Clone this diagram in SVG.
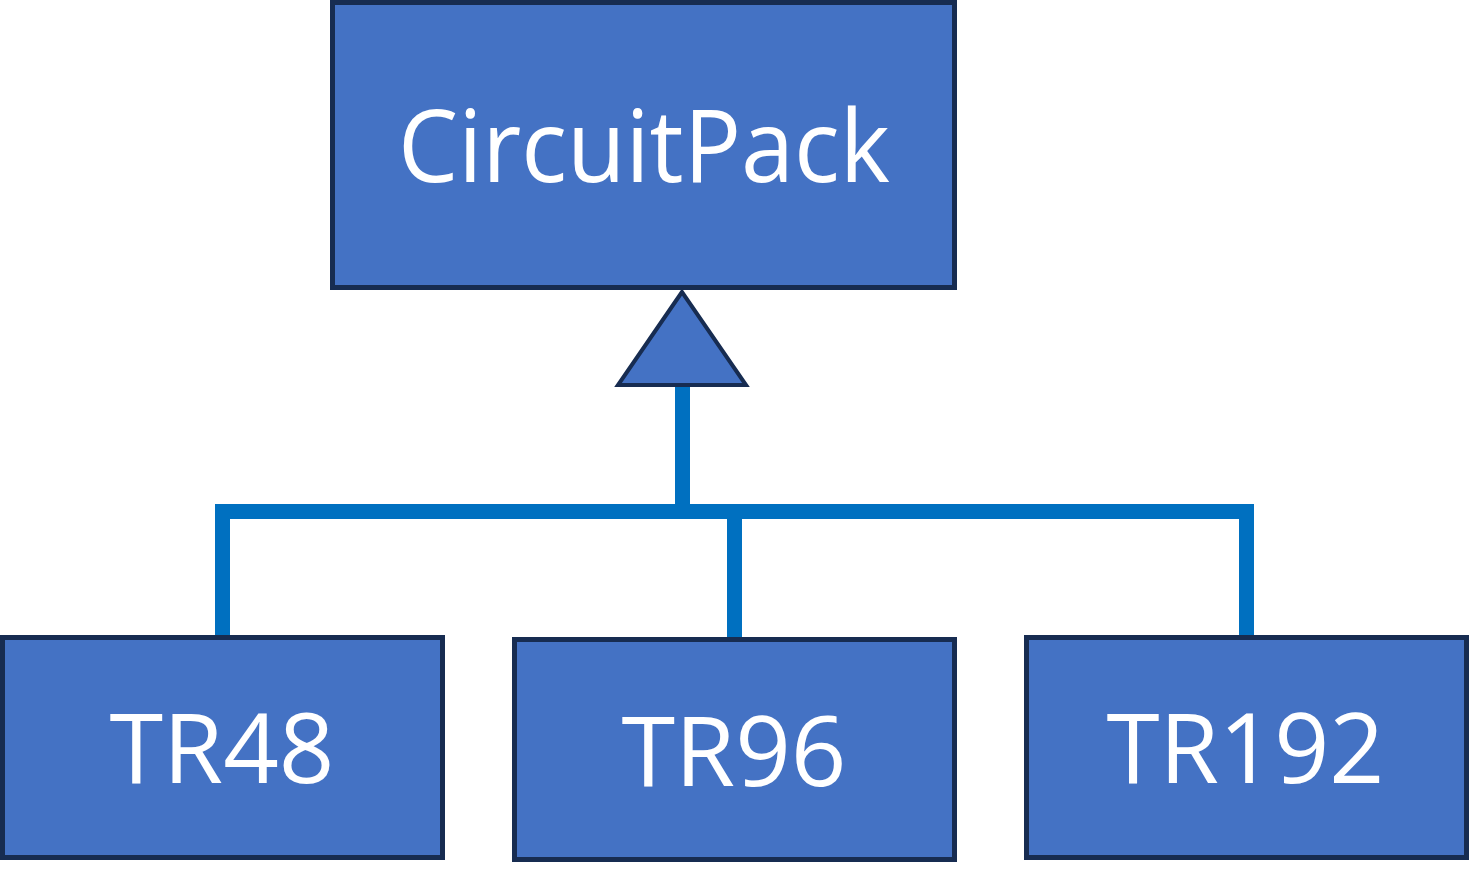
<svg xmlns="http://www.w3.org/2000/svg" width="1469" height="882" viewBox="0 0 1469 882">
<style>
.box{fill:#4472C4;stroke:#172C51;stroke-width:5}
.lbl{fill:#FFFFFF;font-family:"Open Sans","Noto Sans",sans-serif;text-anchor:middle}
.conn{stroke:#0070C0;stroke-width:15;fill:none}
</style>
<rect width="1469" height="882" fill="#FFFFFF"/>
<g id="connectors">
<polyline class="conn" points="222.5,637 222.5,511.5 1246.5,511.5 1246.5,637" stroke-linejoin="miter"/>
<line class="conn" x1="682.5" y1="385" x2="682.5" y2="519"/>
<line class="conn" x1="734.5" y1="511" x2="734.5" y2="639"/>
<polygon points="682,292 618,385 746,385" fill="#4472C4" stroke="#172C51" stroke-width="4" stroke-linejoin="miter"/>
</g>
<g id="CircuitPack">
<rect class="box" x="332.5" y="2.5" width="622" height="285"/>
<text class="lbl" x="644" y="182" font-size="100" textLength="492" lengthAdjust="spacingAndGlyphs">CircuitPack</text>
</g>
<g id="TR48">
<rect class="box" x="2.5" y="637.5" width="440" height="220"/>
<text class="lbl" x="222" y="783" font-size="97" textLength="225" lengthAdjust="spacingAndGlyphs">TR48</text>
</g>
<g id="TR96">
<rect class="box" x="514.5" y="639.5" width="440" height="220"/>
<text class="lbl" x="734" y="786" font-size="97" textLength="225" lengthAdjust="spacingAndGlyphs">TR96</text>
</g>
<g id="TR192">
<rect class="box" x="1026.5" y="637.5" width="440" height="220"/>
<text class="lbl" x="1245.5" y="783" font-size="97" textLength="278" lengthAdjust="spacingAndGlyphs">TR192</text>
</g>
</svg>
